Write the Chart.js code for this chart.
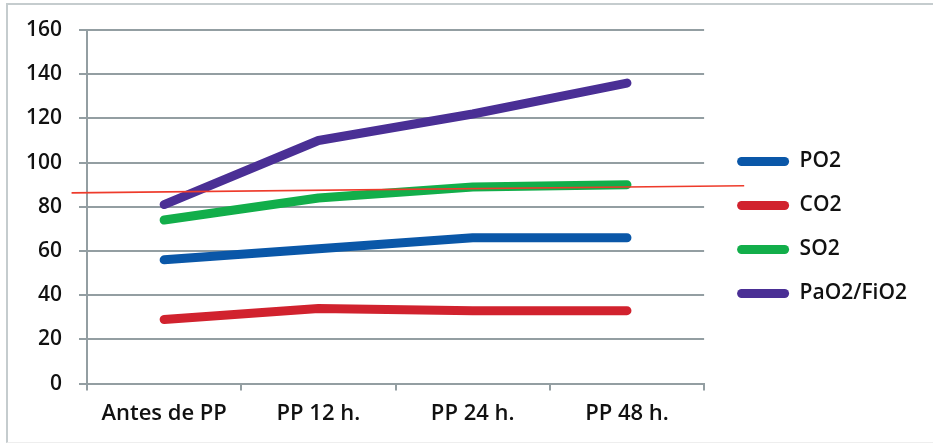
<!DOCTYPE html>
<html>
<head>
<meta charset="utf-8">
<script src="https://cdn.jsdelivr.net/npm/chart.js@4.4.1/dist/chart.umd.min.js"></script>
<style>
  html, body { margin: 0; padding: 0; background: #ffffff; }
  #wrap { position: relative; width: 933px; height: 443px; }
  #frame {
    position: absolute; left: 6px; top: 3px; right: -2px; bottom: 0px;
    border-top: 2px solid #c5ccce; border-left: 2px solid #c5ccce;
    border-bottom: 1px solid #eeeeee;
    pointer-events: none;
  }
  canvas { position: absolute; left: 0; top: 0; }
</style>
</head>
<body>
<div id="wrap">
  <canvas id="chart" width="933" height="443"></canvas>
  <div id="frame"></div>
</div>
<script>
// Time points after prone positioning
const categories = ['Antes de PP', 'PP 12 h.', 'PP 24 h.', 'PP 48 h.'];

// Series values
const po2  = [56, 61, 66, 66];
const co2  = [29, 34, 33, 33];
const so2  = [74, 84, 89, 90];
const pafi = [81, 110, 122, 136];

// Value axis range
const yMin = 0;
const yMax = 160;
const yStep = 20;

// Hand-drawn reference line (category position, value) at both ends
const refLineX = [-0.6, 3.76];
const refLineY = [86.3, 89.5];

const gridGray = '#939ea2';
const fontFamily = '"Open Sans", "Noto Sans", sans-serif';

const refLinePlugin = {
  id: 'refLine',
  afterDatasetsDraw(chart) {
    const x = chart.scales.x, y = chart.scales.y, ctx = chart.ctx;
    ctx.save();
    ctx.strokeStyle = '#ee3b2b';
    ctx.lineWidth = 1.6;
    ctx.beginPath();
    ctx.moveTo(x.getPixelForValue(refLineX[0]), y.getPixelForValue(refLineY[0]));
    ctx.lineTo(x.getPixelForValue(refLineX[1]), y.getPixelForValue(refLineY[1]));
    ctx.stroke();
    ctx.restore();
  }
};

function series(label, data, color) {
  return {
    label, data,
    borderColor: color,
    backgroundColor: color,
    borderWidth: 9,
    borderCapStyle: 'round',
    borderJoinStyle: 'round',
    pointRadius: 0,
    pointHoverRadius: 0,
    tension: 0,
    fill: false
  };
}

// invisible scale used only to reserve space
function spacer(position, size) {
  return {
    type: 'linear',
    position,
    grid: { display: false },
    border: { display: false },
    ticks: { display: false },
    afterFit(scale) {
      if (scale.isHorizontal()) scale.height = size; else scale.width = size;
    }
  };
}

new Chart(document.getElementById('chart'), {
  type: 'line',
  data: {
    labels: categories,
    datasets: [
      series('PO2', po2, '#0a57a8'),
      series('CO2', co2, '#d1222e'),
      series('SO2', so2, '#12ae4a'),
      series('PaO2/FiO2', pafi, '#4a2f95')
    ]
  },
  options: {
    responsive: false,
    animation: false,
    layout: { padding: { top: 18, bottom: 6, left: 0, right: 16 } },
    plugins: {
      tooltip: { enabled: false },
      legend: {
        position: 'right',
        maxWidth: 218,
        labels: {
          boxWidth: 52,
          boxHeight: 9,
          padding: 23,
          color: '#111111',
          font: { family: fontFamily, size: 21, weight: '600' },
          generateLabels(chart) {
            return Chart.defaults.plugins.legend.labels.generateLabels(chart).map(item => {
              item.lineWidth = 0;
              item.borderRadius = 4.5;
              return item;
            });
          }
        }
      }
    },
    scales: {
      x: {
        offset: true,
        grid: {
          drawOnChartArea: false,
          offset: true,
          tickLength: 7,
          color: gridGray,
          lineWidth: 2
        },
        border: { color: gridGray, width: 2 },
        ticks: {
          padding: 10,
          color: '#111111',
          maxRotation: 0,
          font: { family: fontFamily, size: 22, weight: '600' }
        }
      },
      y: {
        min: yMin,
        max: yMax,
        grid: { color: gridGray, lineWidth: 2, tickLength: 8 },
        border: { color: gridGray, width: 2 },
        ticks: {
          stepSize: yStep,
          padding: 17,
          color: '#111111',
          font: { family: fontFamily, size: 21, weight: '600' }
        },
        afterFit(scale) { scale.width = 87; }
      },
      gapRight: spacer('right', 10),
      gapTop: spacer('top', 12)
    }
  },
  plugins: [refLinePlugin]
});
</script>
</body>
</html>
